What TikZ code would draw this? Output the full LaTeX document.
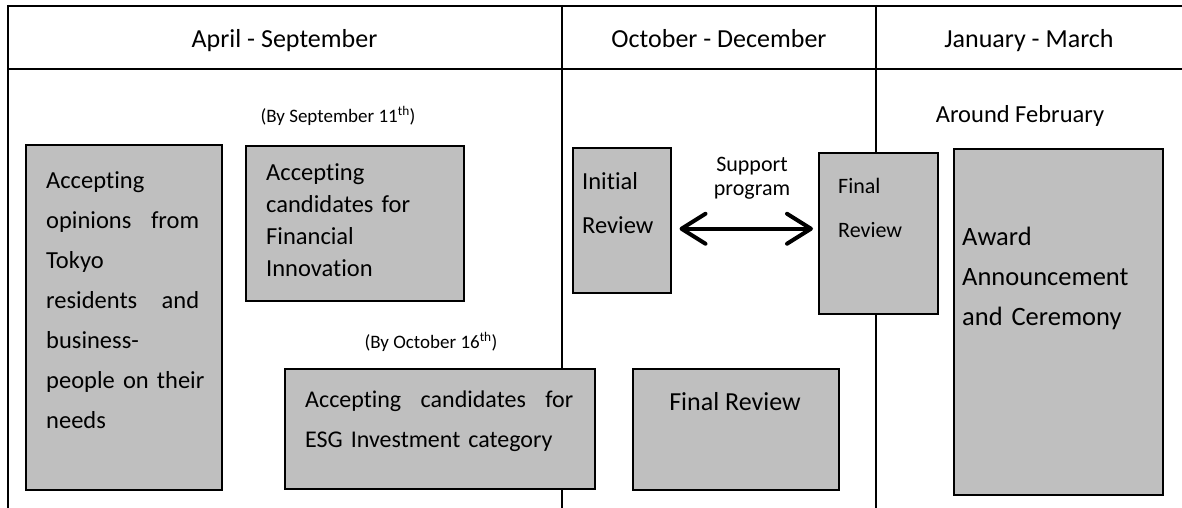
\documentclass[tikz,border=0pt]{standalone}
\usepackage{fontspec}
\setmainfont{Carlito}[Ligatures={NoCommon}]
\usetikzlibrary{arrows.meta,calc}
\definecolor{boxgray}{HTML}{BFBFBF}
\newcommand\jline[2]{\makebox[#1]{#2}}
\begin{document}
\begin{tikzpicture}[x=1pt,y=-1pt,
  gridline/.style={line width=2pt, draw=black},
  box/.style={draw=black, fill=boxgray, line width=1.5pt, inner sep=0pt, anchor=north west},
  txt/.style={inner sep=0pt, anchor=base west},
  hdr/.style={inner sep=0pt, anchor=base, font=\fontsize{26}{31}\selectfont},
  note/.style={inner sep=0pt, anchor=base, font=\fontsize{19}{23}\selectfont},
  biarrow/.style={line width=4pt, {Straight Barb[length=24pt,width=30pt,round]}-{Straight Barb[length=24pt,width=30pt,round]}}
]
\useasboundingbox (0,0) rectangle (1182,508);
% table lines
\draw[gridline] (7.5,6) -- (1182,6);
\draw[gridline] (7.5,69) -- (1182,69);
\draw[gridline] (7.5,5) -- (7.5,508);
\draw[gridline] (562,5) -- (562,508);
\draw[gridline] (876,5) -- (876,508);
% headers
\node[hdr] (h1) at (284.5,48) {April - September};
\node[hdr] (h2) at (719,48) {October - December};
\node[hdr] (h3) at (1029,48) {January - March};
% notes
\node[note] (n1) at (338,122) {(By September 11\textsuperscript{th})};
\node[note] (n2) at (431,348) {(By October 16\textsuperscript{th})};
\node[inner sep=0pt, anchor=base, font=\fontsize{24.5}{29}\selectfont] (n3) at (1020,123) {Around February};
\node[inner sep=0pt, anchor=base, align=center, font=\fontsize{22}{24}\selectfont] (n4) at (752,195) {Support\\program};
% boxes
\node[box, minimum width=196pt, minimum height=345pt] (b1) at (25,144) {};
\node[box, minimum width=218pt, minimum height=155pt] (b2) at (245,145) {};
\node[box, minimum width=310pt, minimum height=120pt] (b3) at (284,368) {};
\node[box, minimum width=98pt, minimum height=145pt] (b4) at (572,147) {};
\node[box, minimum width=119pt, minimum height=161pt] (b5) at (818,152) {};
\node[box, minimum width=206pt, minimum height=121pt] (b6) at (632,368) {};
\node[box, minimum width=209pt, minimum height=346pt] (b7) at (953,148) {};
% box texts
\node[txt, text width=175pt, font=\fontsize{24.5}{40}\selectfont] (t1) at (46,188)
  {Accepting\\\jline{153pt}{opinions\hfill from}\\Tokyo\\\jline{153pt}{residents\hfill and}\\business-\\\mbox{people on their}\\needs};
\node[txt, text width=190pt, font=\fontsize{24.5}{32.3}\selectfont] (t2) at (266,180)
  {Accepting\\candidates for\\Financial\\Innovation};
\node[txt, text width=285pt, font=\fontsize{24}{40}\selectfont] (t3) at (305,407)
  {\jline{268pt}{Accepting\hfill candidates\hfill for}\\ESG Investment category};
\node[txt, text width=85pt, font=\fontsize{24.5}{44}\selectfont] (t4) at (582,189)
  {Initial\\Review};
\node[txt, text width=90pt, font=\fontsize{22}{44}\selectfont] (t5) at (838,193)
  {Final\\Review};
\node[inner sep=0pt, anchor=base, font=\fontsize{26}{31}\selectfont] (t6) at (735,410) {Final Review};
\node[txt, text width=200pt, font=\fontsize{26.5}{40}\selectfont] (t7) at (962,245)
  {Award\\Announcement\\and Ceremony};
% double arrow
\draw[biarrow, shorten <=8pt, shorten >=5pt] ($(b4.east)+(0,8.5)$) -- ($(b5.west)+(0,-4.5)$);
\end{tikzpicture}
\end{document}
